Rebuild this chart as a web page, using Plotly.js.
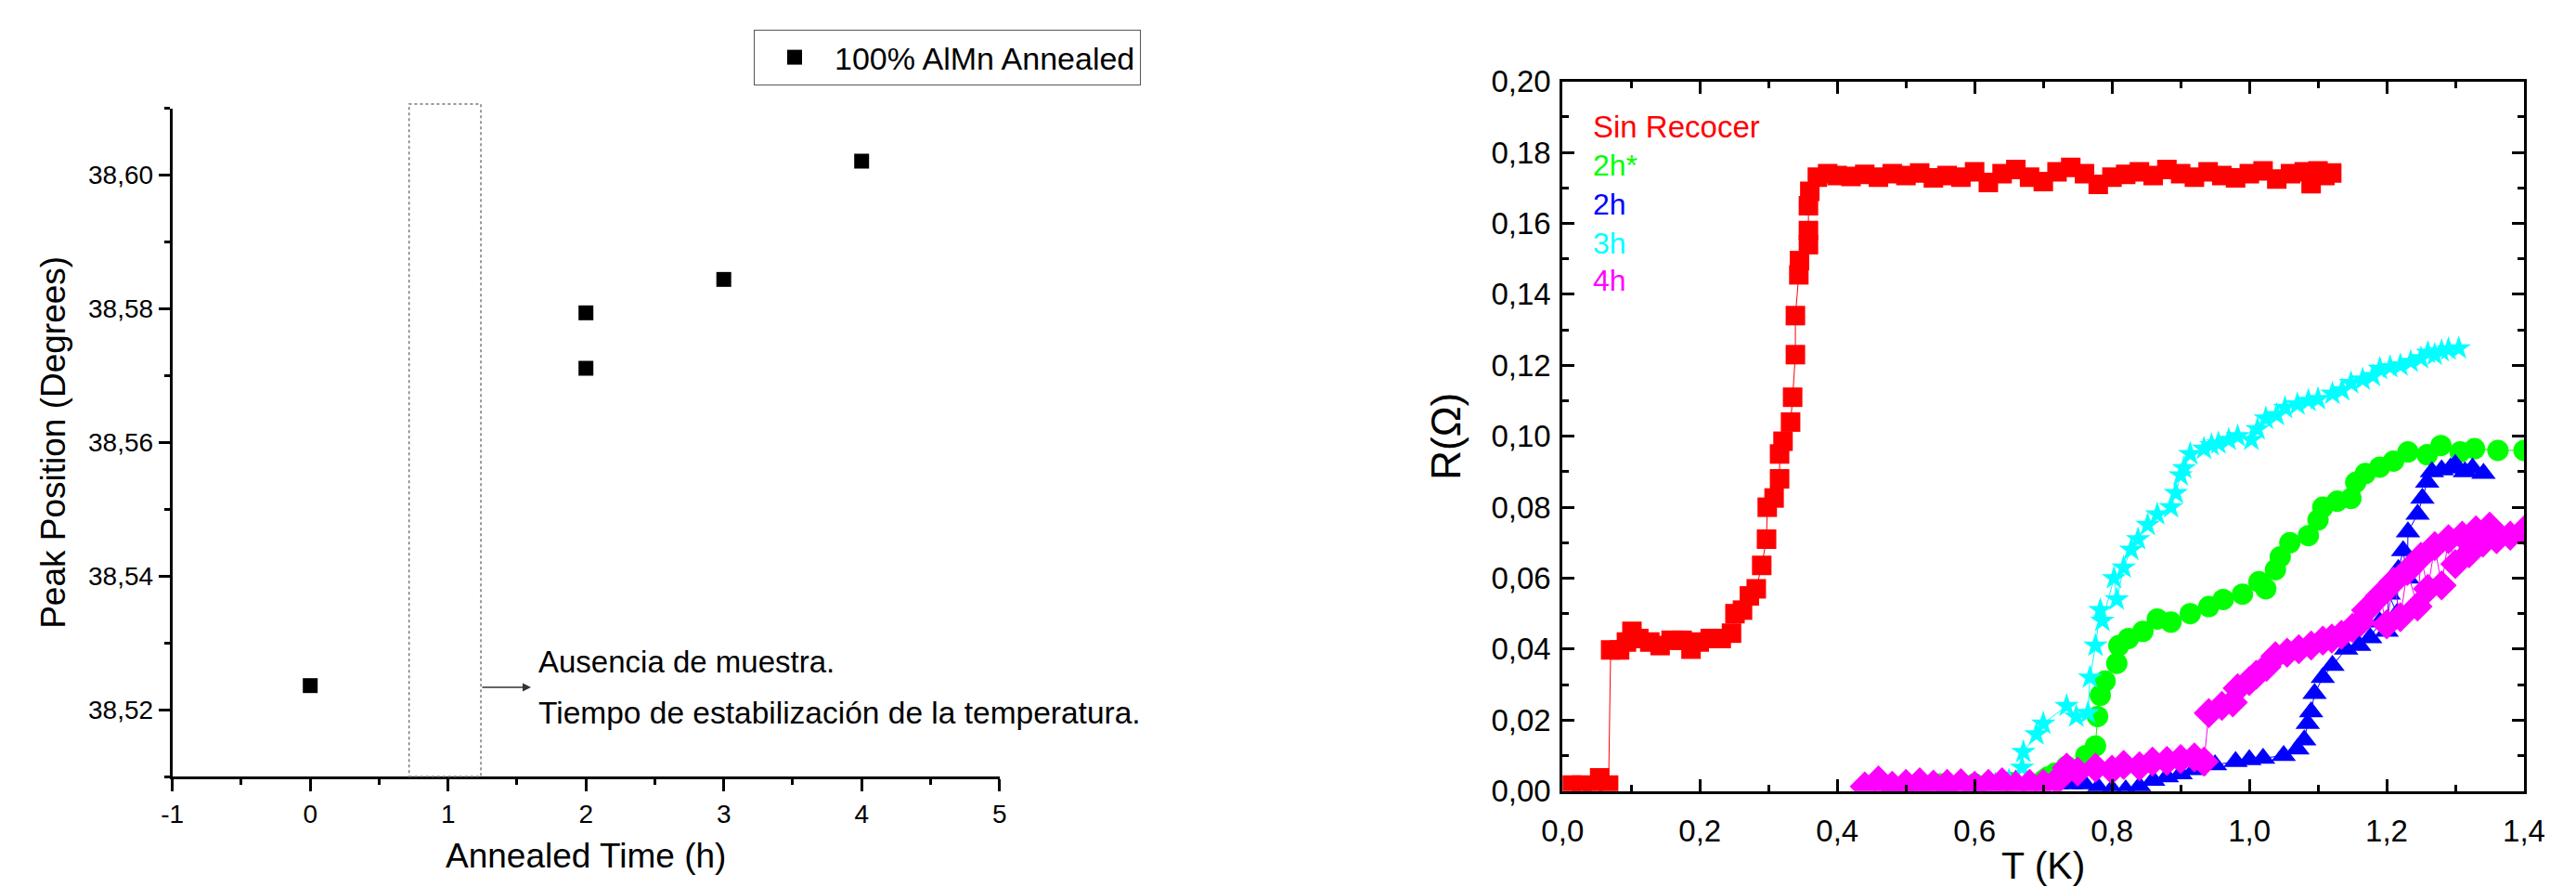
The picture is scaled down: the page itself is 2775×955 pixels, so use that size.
<!DOCTYPE html>
<html>
<head>
<meta charset="utf-8">
<script src="https://cdn.plot.ly/plotly-3.0.1.min.js"></script>
<style>html,body{margin:0;padding:0;background:#fff;}#chart{width:2775px;height:955px;}</style>
</head>
<body>
<div id="chart"></div>
<script>
// ---------- Left chart data ----------
const annealTime = [0, 2, 2, 3, 4];
const peakPosition = [38.5236, 38.5794, 38.5711, 38.5844, 38.6021];
const leftLegendName = '100% AlMn Annealed';
const leftXTickVals = [-1, 0, 1, 2, 3, 4, 5];
const leftXTickText = ['-1', '0', '1', '2', '3', '4', '5'];

// ---------- Right chart data ----------
const sinX = [0.013,0.028,0.044,0.054,0.067,0.070,0.083,0.093,0.101,0.111,0.127,0.142,0.158,0.174,0.187,0.199,0.215,0.231,0.246,0.251,0.262,0.272,0.282,0.290,0.297,0.298,0.308,0.316,0.316,0.321,0.332,0.335,0.339,0.339,0.344,0.345,0.358,0.358,0.358,0.360,0.371,0.386,
  0.40,0.42,0.44,0.46,0.48,0.50,0.52,0.54,0.56,0.58,0.60,0.62,0.64,0.66,0.68,0.70,0.72,0.74,0.76,0.78,0.80,0.82,0.84,0.86,0.88,0.90,0.92,0.94,0.96,0.98,1.00,1.02,1.04,1.06,1.08,1.09,1.10,1.11,1.12];
const sinY = [0.0017,0.0017,0.0010,0.0037,0.0017,0.0398,0.0398,0.0420,0.0450,0.0430,0.0420,0.0410,0.0425,0.0425,0.0400,0.0420,0.0430,0.0430,0.0445,0.0500,0.0510,0.0550,0.0570,0.0636,0.0710,0.0800,0.0826,0.0880,0.0950,0.0986,0.1040,0.1110,0.1230,0.1340,0.1455,0.1495,0.1540,0.1580,0.1650,0.1690,0.1730,0.1740,
  0.1735,0.1732,0.1738,0.1730,0.1740,0.1735,0.1742,0.1728,0.1735,0.1730,0.1745,0.1715,0.1740,0.1752,0.1730,0.1718,0.1745,0.1758,0.1740,0.1710,0.1730,0.1738,0.1745,0.1735,0.1752,0.1740,0.1730,0.1745,0.1735,0.1728,0.1740,0.1748,0.1725,0.1740,0.1745,0.1712,0.1748,0.1735,0.1742];

const h2sX = [0.50,0.55,0.60,0.65,0.70,0.707,0.717,0.734,0.762,0.776,0.779,0.783,0.790,0.807,0.810,0.824,0.845,0.866,0.886,0.914,0.941,0.962,0.990,1.014,1.024,1.038,1.045,1.059,1.086,1.100,1.107,1.128,1.148,1.155,1.169,1.190,1.210,1.231,1.259,1.279,1.307,1.328,1.362,1.400];
const h2sY = [0.0015,0.0020,0.0020,0.0025,0.0030,0.0040,0.0050,0.0070,0.0100,0.0127,0.0210,0.0270,0.0310,0.0360,0.0410,0.0430,0.0450,0.0485,0.0476,0.0500,0.0520,0.0540,0.0555,0.0590,0.0570,0.0624,0.0660,0.0700,0.0720,0.0764,0.0800,0.0817,0.0825,0.0870,0.0895,0.0913,0.0930,0.0956,0.0948,0.0974,0.0956,0.0965,0.0960,0.0960];

const h2X = [0.46,0.48,0.50,0.52,0.54,0.56,0.58,0.60,0.62,0.64,0.66,0.68,0.70,0.72,0.74,0.76,0.78,0.80,0.82,0.84,0.86,0.88,0.90,0.92,0.95,0.98,1.00,1.02,1.05,1.07,1.08,1.085,1.09,1.095,1.107,1.121,1.141,1.160,1.176,1.190,1.200,1.203,1.215,1.217,1.224,1.230,1.231,1.245,1.252,1.259,1.266,1.280,1.293,1.300,1.314,1.325,1.341];
const h2Y = [0.0020,0.0010,0.0020,0.0015,0.0020,0.0010,0.0020,0.0015,0.0020,0.0025,0.0030,0.0020,0.0025,0.0020,0.0020,0.0020,0.0010,0.0005,0.0003,0.0013,0.0030,0.0040,0.0048,0.0060,0.0074,0.0083,0.0088,0.0092,0.0100,0.0118,0.0144,0.0190,0.0223,0.0275,0.0320,0.0354,0.0400,0.0410,0.0432,0.0476,0.0450,0.0555,0.0500,0.0624,0.0677,0.0600,0.0730,0.0780,0.0825,0.0870,0.0900,0.0905,0.0910,0.0920,0.0900,0.0910,0.0895];

const h3X = [0.60,0.63,0.65,0.669,0.671,0.690,0.700,0.734,0.748,0.765,0.768,0.776,0.783,0.786,0.803,0.807,0.817,0.828,0.838,0.852,0.866,0.886,0.893,0.900,0.905,0.914,0.934,0.945,0.955,0.970,0.983,1.003,1.012,1.024,1.040,1.052,1.070,1.086,1.100,1.121,1.135,1.148,1.165,1.180,1.190,1.205,1.220,1.235,1.250,1.260,1.270,1.280,1.290,1.305];
const h3Y = [0.0020,0.0020,0.0030,0.0066,0.0110,0.0160,0.0190,0.0240,0.0210,0.0220,0.0320,0.0410,0.0510,0.0480,0.0600,0.0540,0.0630,0.0680,0.0710,0.0750,0.0780,0.0800,0.0840,0.0890,0.0910,0.0950,0.0965,0.0975,0.0980,0.0990,0.1000,0.0990,0.1020,0.1050,0.1060,0.1080,0.1090,0.1100,0.1105,0.1120,0.1130,0.1150,0.1160,0.1170,0.1190,0.1195,0.1200,0.1210,0.1220,0.1235,0.1230,0.1240,0.1245,0.1248];

const h4X = [0.44,0.46,0.48,0.50,0.52,0.54,0.56,0.58,0.60,0.62,0.64,0.66,0.68,0.70,0.72,0.734,0.75,0.776,0.80,0.817,0.84,0.859,0.88,0.90,0.92,0.934,0.941,0.96,0.976,0.983,1.00,1.01,1.025,1.038,1.055,1.072,1.09,1.107,1.12,1.134,1.15,1.162,1.17,1.19,1.20,1.21,1.22,1.23,1.245,1.25,1.26,1.27,1.28,1.29,1.30,1.31,1.32,1.33,1.34,1.35,1.36,1.38,1.40];
const h4Y = [0.0013,0.0030,0.0015,0.0020,0.0025,0.0018,0.0020,0.0022,0.0015,0.0020,0.0025,0.0015,0.0020,0.0020,0.0030,0.0066,0.0055,0.0066,0.0060,0.0074,0.0070,0.0083,0.0085,0.0090,0.0095,0.0083,0.0220,0.0240,0.0250,0.0290,0.0310,0.0328,0.0350,0.0380,0.0390,0.0400,0.0410,0.0424,0.0430,0.0440,0.0460,0.0476,0.0510,0.0550,0.0470,0.0590,0.0490,0.0620,0.0520,0.0660,0.0570,0.0690,0.0580,0.0710,0.0640,0.0720,0.0670,0.0735,0.0700,0.0745,0.0710,0.0720,0.0735];

const seriesNames = ['Sin Recocer', '2h*', '2h', '3h', '4h'];
const seriesColors = ['#FF0000', '#00FF00', '#0000FF', '#00FFFF', '#FF00FF'];

const FONT = 'Liberation Sans, Arial, Helvetica, sans-serif';
const W = 2775, H = 955;
const px = v => v / W;
const py = v => 1 - v / H;

const traces = [
  {
    x: annealTime, y: peakPosition, type: 'scatter', mode: 'markers', name: leftLegendName,
    xaxis: 'x', yaxis: 'y', showlegend: true,
    marker: {symbol: 'square', size: 16, color: '#000000'}
  }
];
const rightData = [[sinX, sinY, 'square', 21], [h2sX, h2sY, 'circle', 23], [h2X, h2Y, 'triangle-up', 23], [h3X, h3Y, 'star', 20], [h4X, h4Y, 'diamond', 25]];
rightData.forEach((d, i) => {
  traces.push({
    x: d[0], y: d[1], type: 'scatter', mode: 'lines+markers', name: seriesNames[i],
    xaxis: 'x2', yaxis: 'y2', showlegend: false,
    line: {color: seriesColors[i], width: 1},
    marker: {symbol: d[2], size: d[3], color: seriesColors[i], line: {width: 0}}
  });
});

const axisBase = {
  showline: true, linecolor: '#000', linewidth: 3, showgrid: false, zeroline: false,
  tickcolor: '#000', tickwidth: 3, tickfont: {family: FONT, size: 28, color: '#000'},
  tickmode: 'linear'
};

const layout = {
  width: W, height: H,
  margin: {l: 0, r: 0, t: 0, b: 0},
  paper_bgcolor: '#fff', plot_bgcolor: '#fff',
  separators: ',.',
  font: {family: FONT, color: '#000'},
  showlegend: true,
  legend: {
    x: px(812), y: py(32), xanchor: 'left', yanchor: 'top',
    bordercolor: '#555', borderwidth: 1, bgcolor: '#fff',
    font: {family: FONT, size: 34, color: '#000'}, itemwidth: 76
  },
  xaxis: Object.assign({}, axisBase, {
    domain: [px(185.7), px(1076.7)], anchor: 'y', range: [-1, 5],
    tickmode: 'array', tickvals: leftXTickVals, ticktext: leftXTickText,
    ticks: 'outside', ticklen: 13,
    minor: {dtick: 0.5, ticks: 'outside', ticklen: 6, tickwidth: 3, tickcolor: '#000'},
    title: {text: 'Annealed Time (h)', font: {family: FONT, size: 37}, standoff: 18}
  }),
  yaxis: Object.assign({}, axisBase, {
    domain: [py(836), py(116.7)], anchor: 'x', range: [38.51, 38.61],
    tick0: 38.52, dtick: 0.02, tickformat: '.2f', ticks: 'outside', ticklen: 12,
    minor: {dtick: 0.01, ticks: 'outside', ticklen: 6, tickwidth: 3, tickcolor: '#000'},
    title: {text: 'Peak Position (Degrees)', font: {family: FONT, size: 37}, standoff: 14}
  }),
  xaxis2: Object.assign({}, axisBase, {
    domain: [px(1683.3), px(2719)], anchor: 'y2', range: [0, 1.4],
    tick0: 0, dtick: 0.2, tickformat: '.1f', ticks: 'inside', ticklen: 13, mirror: 'allticks',
    tickfont: {family: FONT, size: 33, color: '#000'}, ticklabelstandoff: 12,
    minor: {dtick: 0.1, ticks: 'inside', ticklen: 7, tickwidth: 3, tickcolor: '#000'},
    title: {text: 'T (K)', font: {family: FONT, size: 41}, standoff: 50}
  }),
  yaxis2: Object.assign({}, axisBase, {
    domain: [py(851.7), py(87.7)], anchor: 'x2', range: [0, 0.2],
    tick0: 0, dtick: 0.02, tickformat: '.2f', ticks: 'inside', ticklen: 13, mirror: 'allticks',
    tickfont: {family: FONT, size: 33, color: '#000'}, ticklabelstandoff: 3,
    minor: {dtick: 0.01, ticks: 'inside', ticklen: 7, tickwidth: 3, tickcolor: '#000'},
    title: {text: 'R(Ω)', font: {family: FONT, size: 44}, standoff: 20}
  }),
  shapes: [
    {type: 'rect', xref: 'x', yref: 'paper', x0: 0.717, x1: 1.238, y0: py(836), y1: py(112),
     line: {color: '#777', width: 1.5, dash: 'dot'}, fillcolor: 'rgba(0,0,0,0)'}
  ],
  annotations: [
    {xref: 'paper', yref: 'paper', x: px(578), y: py(712), xanchor: 'left', yanchor: 'middle',
     text: 'Ausencia de muestra.', showarrow: false, font: {family: FONT, size: 33, color: '#000'}},
    {xref: 'paper', yref: 'paper', x: px(578), y: py(767), xanchor: 'left', yanchor: 'middle',
     text: 'Tiempo de estabilización de la temperatura.', showarrow: false, font: {family: FONT, size: 33.5, color: '#000'}},
    {xref: 'paper', yref: 'paper', x: px(572), y: py(740), text: '', showarrow: true,
     ax: -54, ay: 0, arrowhead: 2, arrowsize: 1.2, arrowwidth: 1.5, arrowcolor: '#333', standoff: 0}
  ]
};

const labelY = [136.7, 178.3, 220, 261.7, 301.7];
seriesNames.forEach((n, i) => {
  layout.annotations.push({
    xref: 'paper', yref: 'paper', x: px(1714), y: py(labelY[i]), xanchor: 'left', yanchor: 'middle',
    text: n, showarrow: false, font: {family: FONT, size: i === 0 ? 33 : 32, color: seriesColors[i]}
  });
});

Plotly.newPlot('chart', traces, layout, {displayModeBar: false, staticPlot: true});
</script>
</body>
</html>
